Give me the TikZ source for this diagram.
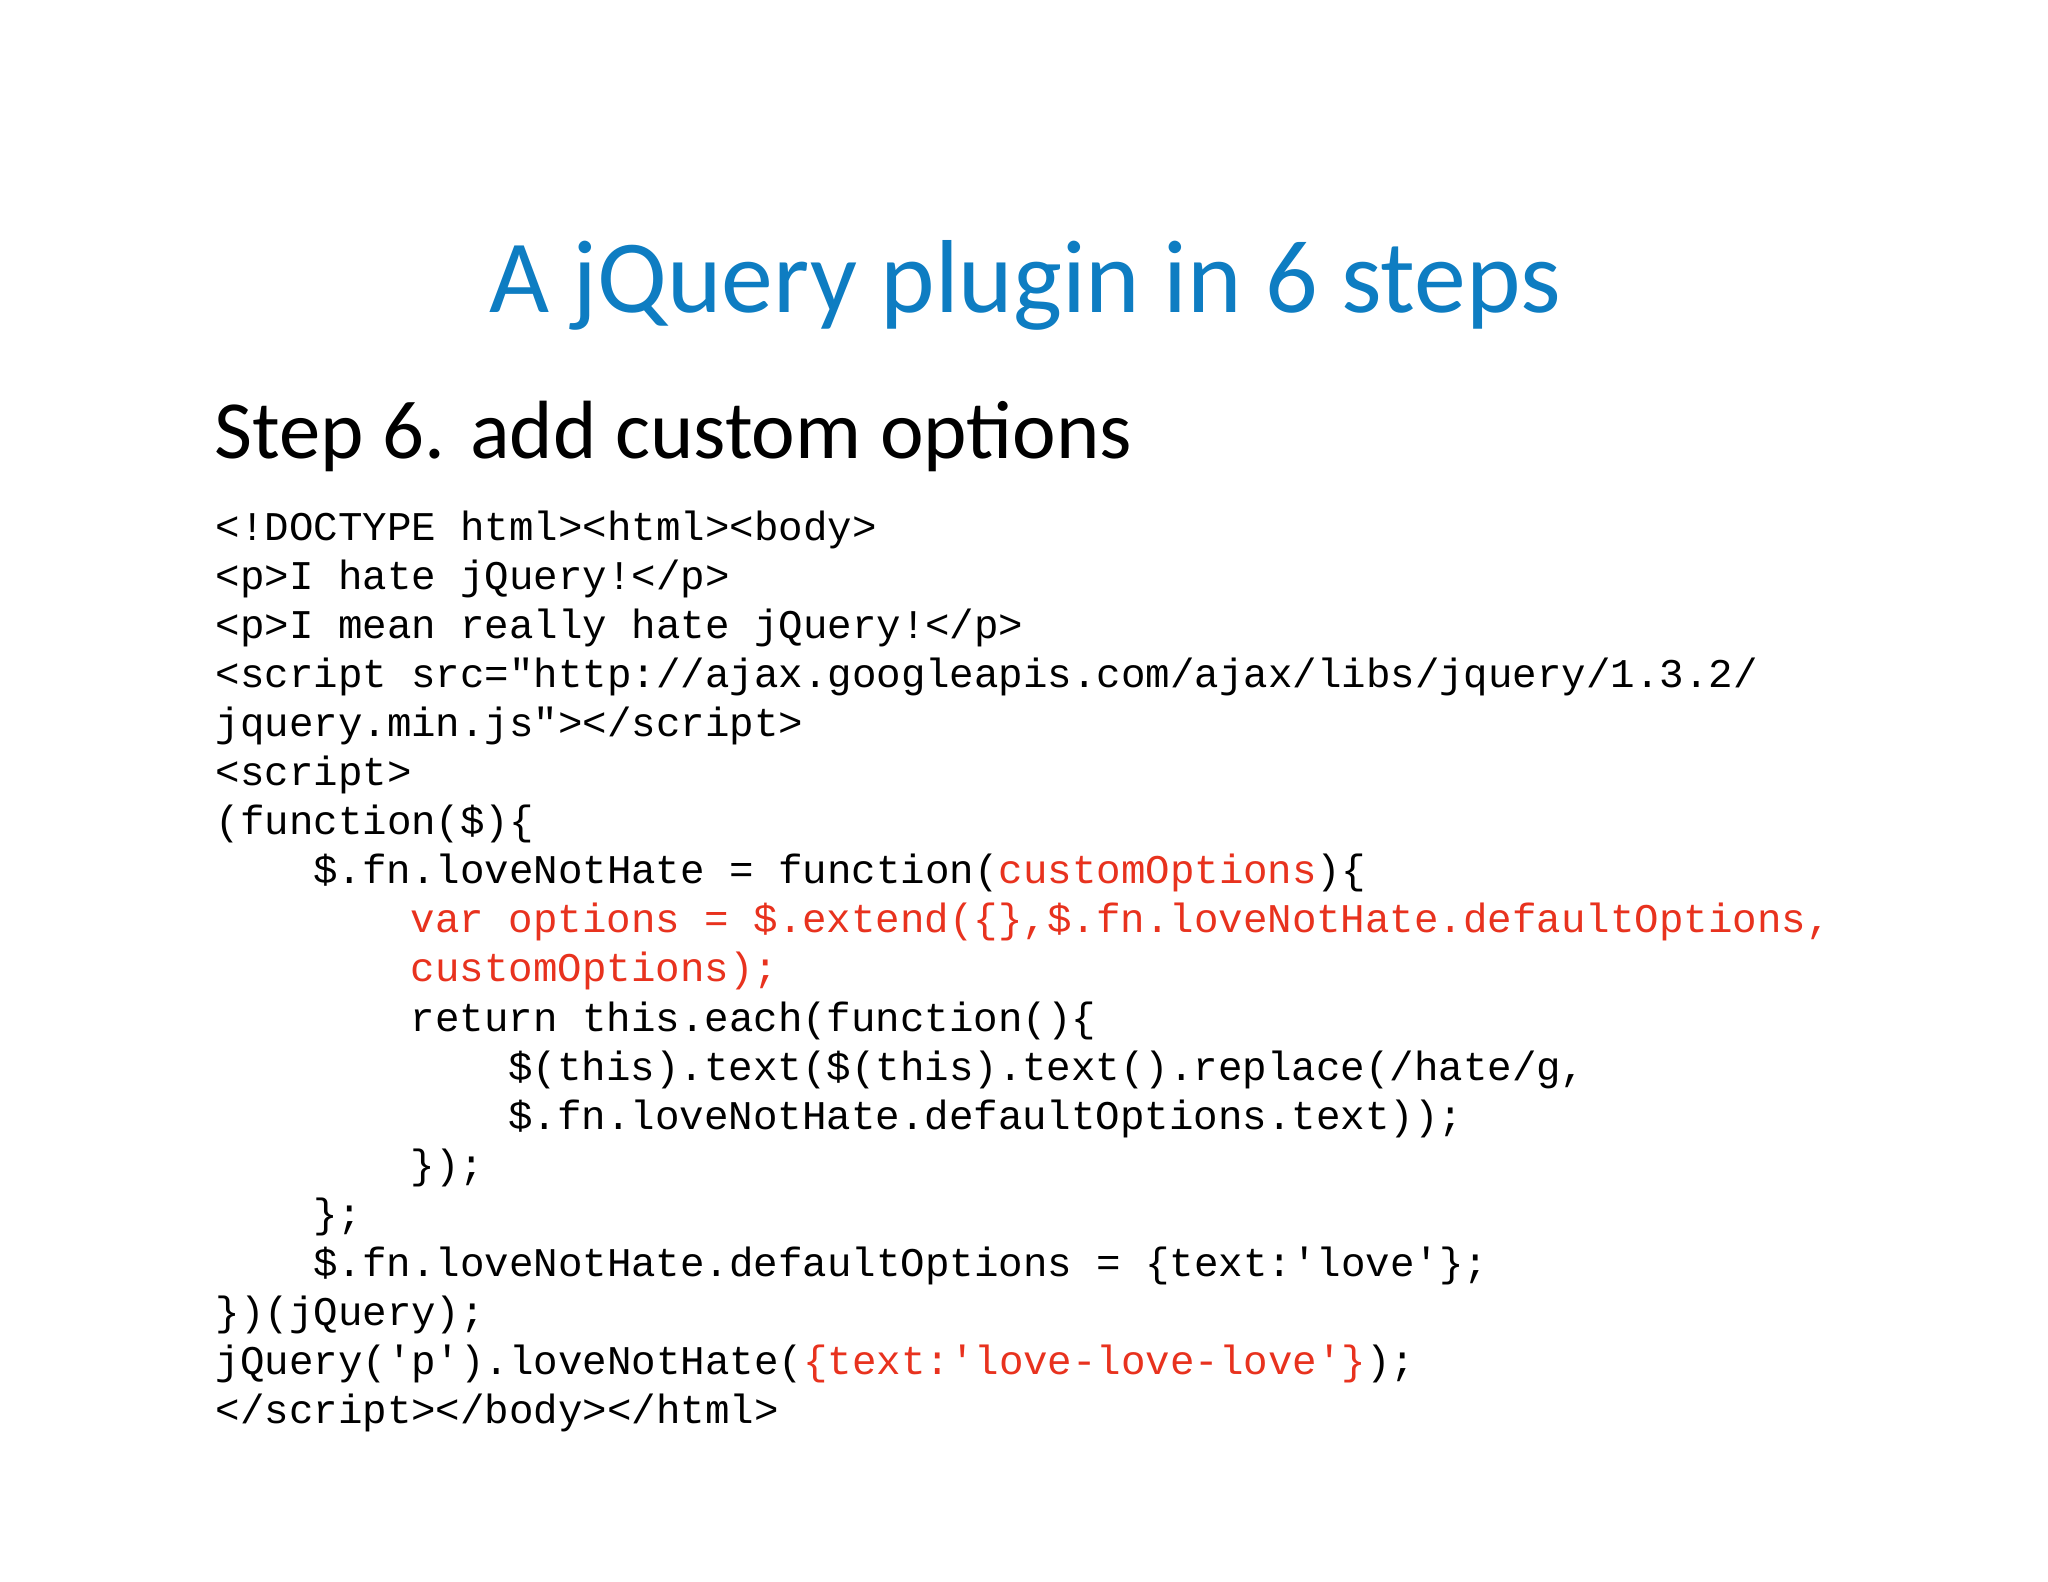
\documentclass[tikz,border=0pt]{standalone}
\usepackage{fontspec}
\setmainfont{Carlito}
\newfontfamily\codefont{Liberation Mono}
\definecolor{titleblue}{HTML}{0E7DC2}
\definecolor{hl}{HTML}{E8321E}
\begin{document}
\begin{tikzpicture}[x=0.01cm,y=-0.01cm,
  codeline/.style={anchor=base west,inner sep=0pt,font=\codefont\fontsize{11.6}{13.9}\selectfont}]
\useasboundingbox (0,0) rectangle (2048,1582);
\fill[white] (0,0) rectangle (2048,1582);
\node[font=\fontsize{29.5}{34}\selectfont,text=titleblue,anchor=base,inner sep=0pt] (title) at (1025,313) {A jQuery plugin in 6 steps};
\node[font=\fontsize{23.5}{28}\selectfont,anchor=base west,inner sep=0pt] (sub) at (214,458) {Step 6. add custom options};
\def\cx{215}\def\ind{97.6}
\foreach \t/\l/\i in {
 {<!DOCTYPE html><html><body>}/0/0,
 {<p>I hate jQuery!</p>}/1/0,
 {<p>I mean really hate jQuery!</p>}/2/0,
 {<script src="http://ajax.googleapis.com/ajax/libs/jquery/1.3.2/}/3/0,
 {jquery.min.js"></script>}/4/0,
 {<script>}/5/0,
 {(function(\$)\{}/6/0,
 {\$.fn.loveNotHate = function(\textcolor{hl}{customOptions})\{}/7/1,
 {\textcolor{hl}{var options = \$.extend(\{\},\$.fn.loveNotHate.defaultOptions,}}/8/2,
 {\textcolor{hl}{customOptions);}}/9/2,
 {return this.each(function()\{}/10/2,
 {\$(this).text(\$(this).text().replace(/hate/g,}/11/3,
 {\$.fn.loveNotHate.defaultOptions.text));}/12/3,
 {\});}/13/2,
 {\};}/14/1,
 {\$.fn.loveNotHate.defaultOptions = \{text:'love'\};}/15/1,
 {\})(jQuery);}/16/0,
 {jQuery('p').loveNotHate(\textcolor{hl}{\{text:'love-love-love'\}});}/17/0,
 {</script></body></html>}/18/0}
 {\node[codeline] (l\l) at ({\cx+\i*\ind},{540+\l*49.1}) {\t};}
\end{tikzpicture}
\end{document}
